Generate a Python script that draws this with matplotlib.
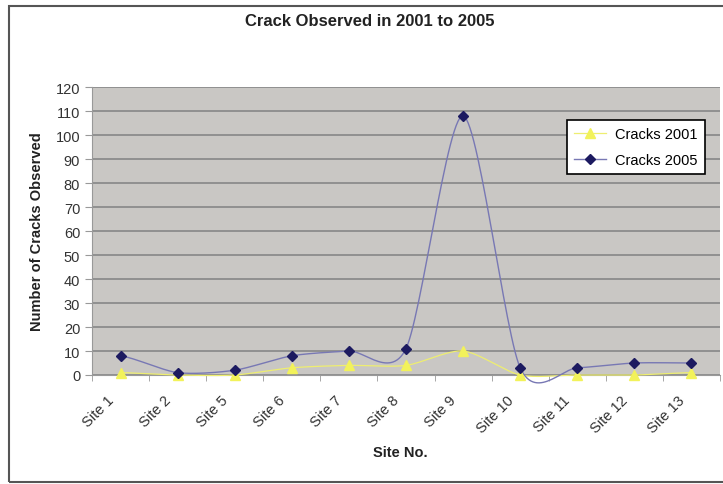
import numpy as np
import matplotlib.pyplot as plt
import matplotlib.transforms as mtransforms
from matplotlib.patches import Rectangle

# data
sites = ['Site 1', 'Site 2', 'Site 5', 'Site 6', 'Site 7', 'Site 8',
         'Site 9', 'Site 10', 'Site 11', 'Site 12', 'Site 13']
cracks_2001 = [1, 0, 0, 3, 4, 4, 10, 0, 0, 0, 1]
cracks_2005 = [8, 1, 2, 8, 10, 11, 108, 3, 3, 5, 5]

plt.rcParams['font.family'] = ['Liberation Sans', 'DejaVu Sans']


def smooth(x, y, n=30, k=0.8):
    # cardinal spline through the points, like Excel's smoothed line
    x = np.asarray(x, float)
    y = np.asarray(y, float)
    px = np.concatenate([[2 * x[0] - x[1]], x, [2 * x[-1] - x[-2]]])
    py = np.concatenate([[y[0]], y, [y[-1]]])
    xs, ys = [], []
    t = np.linspace(0, 1, n)
    h00 = 2 * t ** 3 - 3 * t ** 2 + 1
    h10 = t ** 3 - 2 * t ** 2 + t
    h01 = -2 * t ** 3 + 3 * t ** 2
    h11 = t ** 3 - t ** 2
    for i in range(1, len(px) - 2):
        for p, out in ((px, xs), (py, ys)):
            m1 = k * 0.5 * (p[i + 1] - p[i - 1])
            m2 = k * 0.5 * (p[i + 2] - p[i])
            out.extend(h00 * p[i] + h10 * m1 + h01 * p[i + 1] + h11 * m2)
    return np.array(xs), np.array(ys)


x = np.arange(len(sites))

fig = plt.figure(figsize=(7.23, 4.85), dpi=100)
fig.patches.append(Rectangle((9 / 723, 2 / 485), 1.0, 476 / 485,
                             transform=fig.transFigure, fill=False,
                             edgecolor='#555555', lw=1.5))
ax = fig.add_axes([92 / 723, 109 / 485, 628 / 723, 288 / 485])
ax.set_facecolor('#c9c7c4')

sx, sy = smooth(x, cracks_2001)
ax.plot(sx, sy, color='#eeee70', lw=0.9, zorder=3, clip_on=False)
ax.plot(x, cracks_2001, ls='none', marker='^', ms=7, color='#f2f25a',
        zorder=4, clip_on=False, label='Cracks 2001')
sx, sy = smooth(x, cracks_2005)
ax.plot(sx, sy, color='#7878b4', lw=1.0, zorder=3, clip_on=False)
ax.plot(x, cracks_2005, ls='none', marker='D', ms=5.5, color='#1c1a60',
        zorder=5, clip_on=False, label='Cracks 2005')

ax.set_xlim(-0.5, len(sites) - 0.5)
ax.set_ylim(0, 120)
ax.set_yticks(range(0, 121, 10))
ax.yaxis.grid(True, color='#8c8c8c', lw=1.3)
ax.set_axisbelow(True)

# category labels, rotated and set a little left of each site as in Excel
ax.set_xticks(x)
ax.set_xticklabels([])
ax.tick_params(axis='x', which='major', length=0)
shift = mtransforms.ScaledTranslation(-0.14, -0.18, fig.dpi_scale_trans)
for xi, s in zip(x, sites):
    ax.text(xi, 0, s, transform=ax.get_xaxis_transform() + shift,
            rotation=45, ha='right', va='top', rotation_mode='anchor',
            fontsize=10.5, color='#333333')
ax.set_xticks(np.arange(-0.5, len(sites)), minor=True)
ax.tick_params(axis='x', which='minor', length=4, color='#999999')
ax.tick_params(axis='y', length=5, color='#999999', labelsize=10.5,
               labelcolor='#333333')
for s in ['top', 'right']:
    ax.spines[s].set_visible(False)
ax.spines['left'].set_color('#999999')
ax.spines['bottom'].set_color('#999999')

# legend with line + marker as in Excel
h1 = plt.Line2D([], [], color='#eeee70', lw=0.9, marker='^', ms=7,
                mfc='#f2f25a', mec='#f2f25a')
h2 = plt.Line2D([], [], color='#7878b4', lw=1.0, marker='D', ms=5.5,
                mfc='#1c1a60', mec='#1c1a60')
leg = ax.legend([h1, h2], ['Cracks 2001', 'Cracks 2005'], loc='upper right',
                bbox_to_anchor=(0.976, 0.885), borderaxespad=0, fontsize=10.5,
                fancybox=False, framealpha=1, edgecolor='black',
                handlelength=2.2, handletextpad=0.6, borderpad=0.5,
                labelspacing=0.8)
leg.get_frame().set_linewidth(1.2)

fig.text(370 / 723, 1 - 22 / 485, 'Crack Observed in 2001 to 2005',
         ha='center', va='center', fontsize=12, fontweight='bold',
         color='#222222')
fig.text(37 / 723, 1 - 232 / 485, 'Number of Cracks Observed', rotation=90,
         ha='center', va='center', fontsize=10.5, fontweight='bold',
         color='#222222')
fig.text(400 / 723, 1 - 453 / 485, 'Site No.', ha='center', va='center',
         fontsize=10.5, fontweight='bold', color='#222222')

fig.savefig('out.png', dpi=100)
